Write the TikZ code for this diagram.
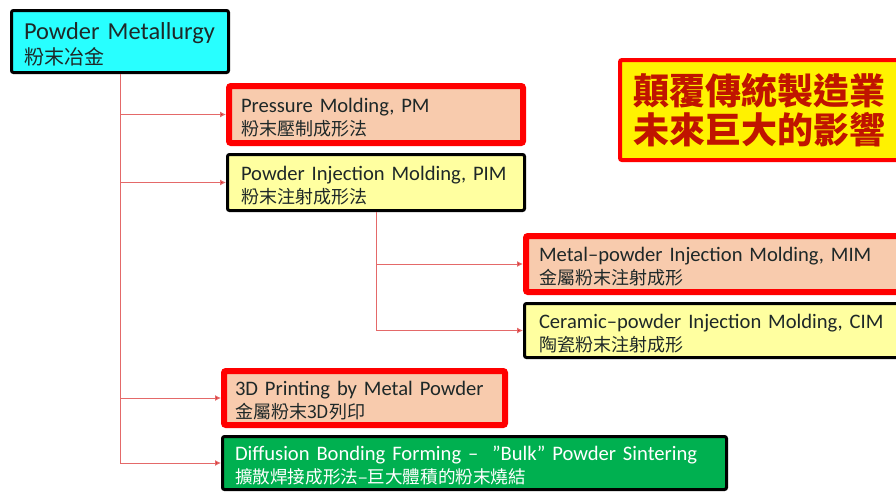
\documentclass[tikz,border=0pt]{standalone}
\usepackage{fontspec}
\setmainfont{Carlito}
\newfontfamily\cjk{Noto Sans CJK TC}
\usetikzlibrary{arrows.meta}

\definecolor{linkred}{RGB}{228,105,105}
\definecolor{tipred}{RGB}{215,30,30}
\definecolor{boxred}{RGB}{255,0,0}
\definecolor{peach}{RGB}{248,203,173}
\definecolor{paleyellow}{RGB}{255,255,160}
\definecolor{rootcyan}{RGB}{40,255,255}
\definecolor{bulkgreen}{RGB}{0,176,80}
\definecolor{slogantext}{RGB}{192,20,0}
\definecolor{boxtext}{RGB}{30,40,40}

% Chinese second line of a box
\newcommand{\zhline}[2][18]{{\cjk\fontsize{#1}{#1}\selectfont #2}}

\tikzset{
  box/.style={rectangle, rounded corners=2pt, anchor=north west, align=left,
    inner ysep=0pt, text depth=19pt, text=boxtext, font=\fontsize{20.6}{23}\selectfont},
  redbox/.style={box, draw=boxred, line width=6pt, fill=peach},
  blackbox/.style={box, draw=black, line width=3pt, fill=paleyellow},
  link/.style={draw=linkred, line width=1pt, -{Latex[length=6pt,width=6pt,fill=tipred]}}
}

\begin{document}
\begin{tikzpicture}[x=1pt,y=-1pt]
            \useasboundingbox (0,0) rectangle (896,493);
            \clip (0,0) rectangle (896,493);

            % root
            \node[box, draw=black, line width=3pt, fill=rootcyan, inner xsep=12.5pt, text depth=21pt,
              text width=192pt, minimum height=62pt, font=\fontsize{24.4}{25}\selectfont]
              (root) at (10,9) {Powder Metallurgy\\\zhline[20]{粉末冶金}};

            % first level
            \node[redbox, inner xsep=12pt, text width=270pt, minimum height=57pt]
              (pm) at (226,83) {Pressure Molding, PM\\\zhline{粉末壓制成形法}};
            \node[blackbox, inner xsep=13.5pt, text width=270pt, minimum height=56pt]
              (pim) at (226,153) {Powder Injection Molding, PIM\\\zhline{粉末注射成形法}};
            \node[redbox, inner xsep=11pt, text width=259pt, minimum height=54pt]
              (print3d) at (221,368) {3D Printing by Metal Powder\\\zhline{金屬粉末3D列印}};
            \node[box, draw=black, line width=3pt, fill=bulkgreen, text=white, inner xsep=12.5pt,
              text width=479pt, minimum height=53pt]
              (bulk) at (221,435) {Diffusion Bonding Forming –\ \ "Bulk" Powder Sintering\\\zhline[17.6]{擴散焊接成形法–巨大體積的粉末燒結}};

            % second level
            \node[redbox, inner xsep=13pt, text width=400pt, minimum height=56pt]
              (mim) at (523,233) {Metal–powder Injection Molding, MIM\\\zhline{金屬粉末注射成形}};
            \node[blackbox, inner xsep=14.5pt, text width=400pt, minimum height=54pt]
              (cim) at (523,302) {Ceramic–powder Injection Molding, CIM\\\zhline{陶瓷粉末注射成形}};

            % slogan
            \node[box, draw=boxred, line width=4pt, fill=yellow, text=slogantext, inner xsep=13pt, text depth=42pt,
              text width=300pt, minimum height=100pt, font=\cjk\bfseries\fontsize{36}{39}\selectfont]
              (slogan) at (618,58) {顛覆傳統製造業\\未來巨大的影響};

            % connectors
            \draw[link] (root.south) |- (pm.west);
            \draw[link] (root.south) |- (pim.west);
            \draw[link] (root.south) |- (print3d.west);
            \draw[link] (root.south) |- (bulk.west);
            \draw[link] (pim.south) |- (mim.west);
            \draw[link] (pim.south) |- (cim.west);

        \end{tikzpicture}
\end{document}
